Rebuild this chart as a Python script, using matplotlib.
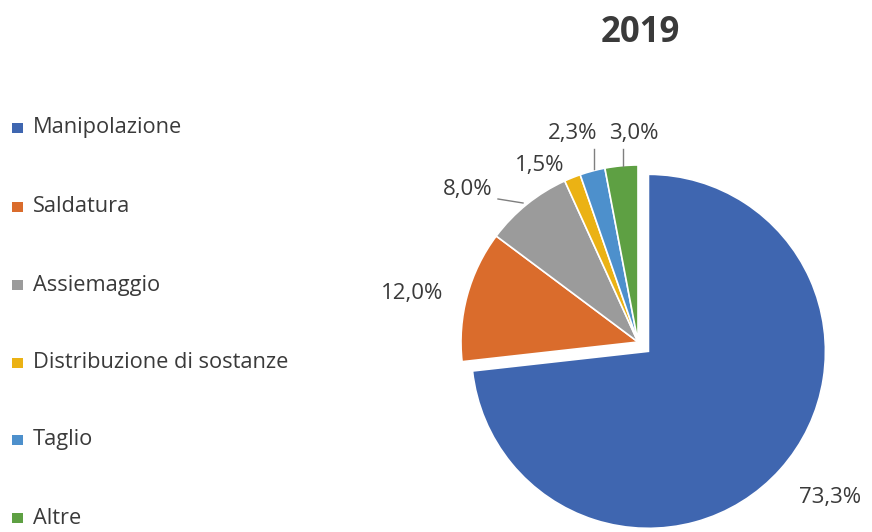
import matplotlib
matplotlib.use("Agg")
import matplotlib.pyplot as plt
from matplotlib.patches import Rectangle

# Data
title = "2019"
categories = ["Manipolazione", "Saldatura", "Assiemaggio",
              "Distribuzione di sostanze", "Taglio", "Altre"]
values = [73.3, 12.0, 8.0, 1.5, 2.3, 3.0]
value_labels = ["73,3%", "12,0%", "8,0%", "1,5%", "2,3%", "3,0%"]
colors = ["#3F66B0", "#DA6C2C", "#9B9B9B", "#EBB214", "#4D90CC", "#5EA043"]

plt.rcParams["font.family"] = ["Open Sans", "DejaVu Sans"]
text_color = "#3A3A3A"

W, H = 872, 532
fig = plt.figure(figsize=(W / 100, H / 100), dpi=100)
ax = fig.add_axes([0, 0, 1, 1])

# Pie, pixel-space coordinates (y measured from bottom)
cx, cy, r = 638, 190, 177
explode = [14, 0, 0, 0, 0, 0]
wedges, _ = ax.pie(values, colors=colors, startangle=90, counterclock=False,
                   center=(cx, cy), radius=r, explode=explode,
                   wedgeprops=dict(edgecolor="white", linewidth=1.2),
                   frame=True)
ax.set_xlim(0, W)
ax.set_ylim(0, H)
ax.set_aspect("equal")
ax.axis("off")

# Value labels with leader lines for the small slices
label_pos = [(830, H - 498), (412, H - 293), (468, H - 190),
             (540, H - 166), (573, H - 133), (634, H - 133)]
leaders = [None, None,
           ((498, H - 199), (523, H - 203)),
           None,
           ((594, H - 149), (594, H - 169)),
           ((623, H - 149), (623, H - 166))]
for txt, (x, y), ld in zip(value_labels, label_pos, leaders):
    ax.text(x, y, txt, ha="center", va="center", fontsize=16, color=text_color)
    if ld is not None:
        (x0, y0), (x1, y1) = ld
        ax.plot([x0, x1], [y0, y1], color="#7F7F7F", linewidth=1)

# Title
ax.text(640, H - 33, title, ha="center", va="center", fontsize=25,
        fontweight="bold", color=text_color)

# Legend
legend_y = [128, 207, 285, 363, 440, 518]
for name, col, y in zip(categories, colors, legend_y):
    ax.add_patch(Rectangle((12, H - y - 5), 10.5, 10.5, facecolor=col, edgecolor="none"))
    ax.text(33, H - y, name, ha="left", va="center", fontsize=15.7, color=text_color)

fig.savefig("out.png", dpi=100)
